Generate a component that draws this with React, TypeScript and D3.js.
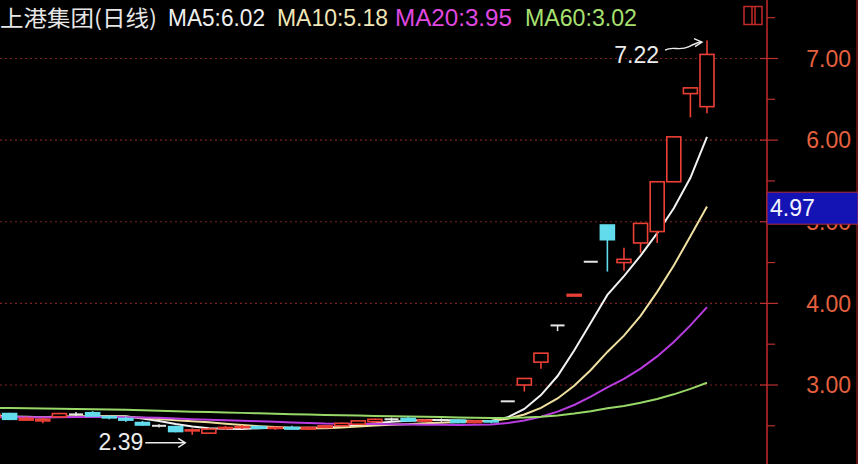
import React from "react";
import * as d3 from "d3";

// ---- Data ----
// hidden prior closes (only used for moving averages)
const historyCloses = [
  2.74, 2.77, 2.8, 2.83, 2.81, 2.78, 2.76, 2.79, 2.82, 2.85, 2.83, 2.8, 2.77, 2.75, 2.78, 2.81, 2.79, 2.76, 2.74, 2.77,
  2.8, 2.82, 2.79, 2.77, 2.75, 2.78, 2.81, 2.83, 2.8, 2.78, 2.76, 2.74, 2.77, 2.79, 2.76, 2.73, 2.71, 2.74, 2.7, 2.67,
  2.64, 2.62, 2.6, 2.63, 2.61, 2.58, 2.6, 2.62, 2.59, 2.57, 2.6, 2.62, 2.6, 2.58, 2.61, 2.63, 2.6, 2.62, 2.63,
];
const openPrices = [
  2.6, 2.65, 2.57, 2.56, 2.61, 2.64, 2.66, 2.61, 2.59, 2.54, 2.5, 2.49, 2.44, 2.41, 2.47, 2.48, 2.49, 2.47, 2.48, 2.46,
  2.48, 2.5, 2.52, 2.55, 2.58, 2.59, 2.56, 2.57, 2.57, 2.54, 2.56,
  2.8, 3.0, 3.28, 3.73, 4.09, 4.51, 4.96, 4.5, 4.74, 4.88, 5.49, 6.57, 6.41,
];
const highPrices = [
  2.66, 2.66, 2.61, 2.6, 2.66, 2.67, 2.68, 2.63, 2.61, 2.56, 2.52, 2.5, 2.47, 2.47, 2.5, 2.51, 2.5, 2.49, 2.5, 2.49,
  2.51, 2.54, 2.57, 2.59, 2.6, 2.61, 2.58, 2.59, 2.58, 2.57, 2.57,
  2.8, 3.08, 3.39, 3.73, 4.11, 4.51, 4.96, 4.68, 4.98, 5.49, 6.04, 6.64, 7.22,
];
const lowPrices = [
  2.58, 2.57, 2.56, 2.53, 2.6, 2.62, 2.61, 2.58, 2.55, 2.5, 2.48, 2.42, 2.39, 2.4, 2.45, 2.46, 2.46, 2.45, 2.46, 2.45,
  2.47, 2.49, 2.51, 2.54, 2.56, 2.55, 2.54, 2.55, 2.53, 2.53, 2.53,
  2.8, 2.92, 3.2, 3.66, 4.09, 4.51, 4.39, 4.4, 4.62, 4.74, 5.49, 6.28, 6.33,
];
const closePrices = [
  2.64, 2.58, 2.59, 2.58, 2.65, 2.64, 2.62, 2.6, 2.57, 2.51, 2.5, 2.43, 2.45, 2.46, 2.48, 2.49, 2.47, 2.48, 2.46, 2.48,
  2.5, 2.53, 2.56, 2.58, 2.58, 2.56, 2.57, 2.57, 2.54, 2.56, 2.55,
  2.8, 3.08, 3.39, 3.73, 4.11, 4.51, 4.78, 4.54, 4.98, 5.49, 6.04, 6.64, 7.05,
];
const maPeriods = [5, 10, 20, 60];
const maNames = ["MA5", "MA10", "MA20", "MA60"];
const maHeaderValues = [6.02, 5.18, 3.95, 3.02];
const titleText = "上港集团(日线)";
const priceTicks = [3, 4, 5, 6, 7];
const currentPrice = 4.97;

// ---- Styles ----
const W = 858;
const H = 464;
const AXIS_X = 767;
const maColors = ["#f2f2f2", "#f0e0a0", "#b83ce0", "#98d868"];
const maTextColors = ["#f0f0f0", "#f0e6b6", "#e048e0", "#a8e070"];
const maTextX = [168, 277, 395, 525];
const maTextW = [97, 111, 117, 112];
const UP = "#ec4036";
const DOWN = "#62dcec";
const FLAT = "#e6e6e6";
const latin = "'Liberation Sans', Arial, sans-serif";

export default function App() {
  const n = closePrices.length;
  const x = d3.scaleLinear().domain([0, n - 1]).range([-7, 707]);
  const y = d3.scaleLinear().domain([3, 7]).range([385, 58.5]);
  const bw = 14;

  const allCloses = historyCloses.concat(closePrices);
  const off = historyCloses.length;
  const maSeries = maPeriods.map((p) =>
    closePrices.map((_, i) => {
      const g = i + off;
      return { i, v: d3.mean(allCloses.slice(g - p + 1, g + 1)) as number };
    })
  );
  const line = d3
    .line<{ i: number; v: number }>()
    .x((d) => x(d.i))
    .y((d) => y(d.v));

  const hiIdx = d3.maxIndex(highPrices);
  const loIdx = d3.minIndex(lowPrices);
  const hx = x(hiIdx);
  const hy = y(highPrices[hiIdx]);
  const lx = x(loIdx);
  const ly = y(lowPrices[loIdx]);

  const cy = y(currentPrice);

  return (
    <div style={{ position: "fixed", left: 0, top: 0, width: W, height: H, background: "#000" }}>
      <svg width={W} height={H} style={{ display: "block" }}>
        <rect x={0} y={0} width={W} height={H} fill="#000" />
        <defs>
          <clipPath id="plot">
            <rect x={0} y={0} width={AXIS_X} height={H} />
          </clipPath>
        </defs>

        {/* grid */}
        {priceTicks.map((t) => (
          <line
            key={"g" + t}
            x1={0}
            x2={AXIS_X}
            y1={y(t)}
            y2={y(t)}
            stroke="#7a2222"
            strokeWidth={1.2}
            strokeDasharray="2,3"
          />
        ))}

        <g clipPath="url(#plot)">
          {/* MA lines */}
          {maSeries.map((s, k) => (
            <path key={"ma" + k} d={line(s) || ""} fill="none" stroke={maColors[k]} strokeWidth={2} />
          ))}
          {/* candles */}
          {closePrices.map((c, i) => {
            const o = openPrices[i];
            const h = highPrices[i];
            const l = lowPrices[i];
            const cx = x(i);
            const top = y(Math.max(o, c));
            const bot = y(Math.min(o, c));
            if (c > o) {
              return (
                <g key={i} stroke={UP} strokeWidth={1.6} fill="#000">
                  {h > Math.max(o, c) && <line x1={cx} x2={cx} y1={y(h)} y2={top} />}
                  {l < Math.min(o, c) && <line x1={cx} x2={cx} y1={bot} y2={y(l)} />}
                  <rect x={cx - bw / 2} y={top} width={bw} height={Math.max(bot - top, 1)} />
                </g>
              );
            }
            if (c < o) {
              return (
                <g key={i} stroke={DOWN} strokeWidth={1.6} fill={DOWN}>
                  <line x1={cx} x2={cx} y1={y(h)} y2={y(l)} />
                  <rect x={cx - bw / 2} y={top} width={bw} height={Math.max(bot - top, 1)} />
                </g>
              );
            }
            return (
              <g key={i} stroke={FLAT} strokeWidth={2}>
                {h > l && <line x1={cx} x2={cx} y1={y(h)} y2={y(l)} strokeWidth={1.5} />}
                <line x1={cx - bw / 2} x2={cx + bw / 2} y1={top} y2={top} />
              </g>
            );
          })}
        </g>

        {/* high annotation */}
        <text x={hx - 48} y={hy + 22.5} fill="#ececec" fontSize={23} fontFamily={latin} textAnchor="end">
          {highPrices[hiIdx].toFixed(2)}
        </text>
        <path
          d={`M${hx - 42},${hy + 9.5} C${hx - 34},${hy + 5} ${hx - 28},${hy + 11} ${hx - 18},${hy + 6} S${hx - 9},${hy + 2} ${hx - 5},${hy + 1.5}`}
          fill="none"
          stroke="#ececec"
          strokeWidth={1.4}
        />
        <path
          d={`M${hx - 13},${hy - 2} L${hx - 5},${hy + 1.5} L${hx - 12},${hy + 6}`}
          fill="none"
          stroke="#ececec"
          strokeWidth={1.4}
        />

        {/* low annotation */}
        <text x={lx - 49} y={ly + 15.5} fill="#ececec" fontSize={23} fontFamily={latin} textAnchor="end">
          {lowPrices[loIdx].toFixed(2)}
        </text>
        <line x1={lx - 47} x2={lx - 7} y1={ly + 8} y2={ly + 8} stroke="#ececec" strokeWidth={1.4} />
        <path
          d={`M${lx - 14},${ly + 3.5} L${lx - 7},${ly + 8} L${lx - 14},${ly + 12.5}`}
          fill="none"
          stroke="#ececec"
          strokeWidth={1.4}
        />

        {/* right axis */}
        <line x1={AXIS_X} x2={AXIS_X} y1={0} y2={H} stroke="#c42a2a" strokeWidth={1.5} />
        <line x1={857} x2={857} y1={0} y2={H} stroke="#9a2020" strokeWidth={1.2} />
        {d3.range(2.5, 7.51, 0.5).map((t) => {
          const major = Math.abs(t - Math.round(t)) < 1e-6;
          return (
            <line
              key={"t" + t}
              x1={major ? 760 : AXIS_X}
              x2={major ? 778 : 775}
              y1={y(t)}
              y2={y(t)}
              stroke="#b83030"
              strokeWidth={1.2}
            />
          );
        })}
        {priceTicks.map((t) => (
          <text
            key={"l" + t}
            x={851}
            y={y(t)}
            dy="0.36em"
            fill="#e4603e"
            fontSize={23}
            fontFamily={latin}
            textAnchor="end"
          >
            {t.toFixed(2)}
          </text>
        ))}

        {/* current price box */}
        <rect x={AXIS_X} y={cy - 32} width={W - AXIS_X} height={32} fill="#1414b4" stroke="#b02a3a" strokeWidth={1} />
        <text x={770} y={cy - 16} dy="0.36em" fill="#f4f4ff" fontSize={23} fontFamily={latin}>
          {currentPrice.toFixed(2)}
        </text>

        {/* header */}
        <text
          x={0}
          y={25.5}
          fill="#e6e6e6"
          fontSize={22}
          fontFamily="'Noto Sans CJK SC', sans-serif"
          textLength={157}
          lengthAdjust="spacingAndGlyphs"
        >
          {titleText}
        </text>
        {maNames.map((nm, k) => (
          <text
            key={"h" + k}
            x={maTextX[k]}
            y={26}
            fill={maTextColors[k]}
            fontSize={23}
            fontFamily={latin}
            textLength={maTextW[k]}
            lengthAdjust="spacingAndGlyphs"
          >
            {`${nm}:${maHeaderValues[k].toFixed(2)}`}
          </text>
        ))}

        {/* window icon */}
        <rect x={744} y={6.5} width={18} height={18} fill="none" stroke="#c42a2a" strokeWidth={1.5} />
        <line x1={752} x2={752} y1={6.5} y2={24.5} stroke="#c42a2a" strokeWidth={1.5} />
        <line x1={755} x2={755} y1={6.5} y2={24.5} stroke="#c42a2a" strokeWidth={1.5} />
      </svg>
    </div>
  );
}
